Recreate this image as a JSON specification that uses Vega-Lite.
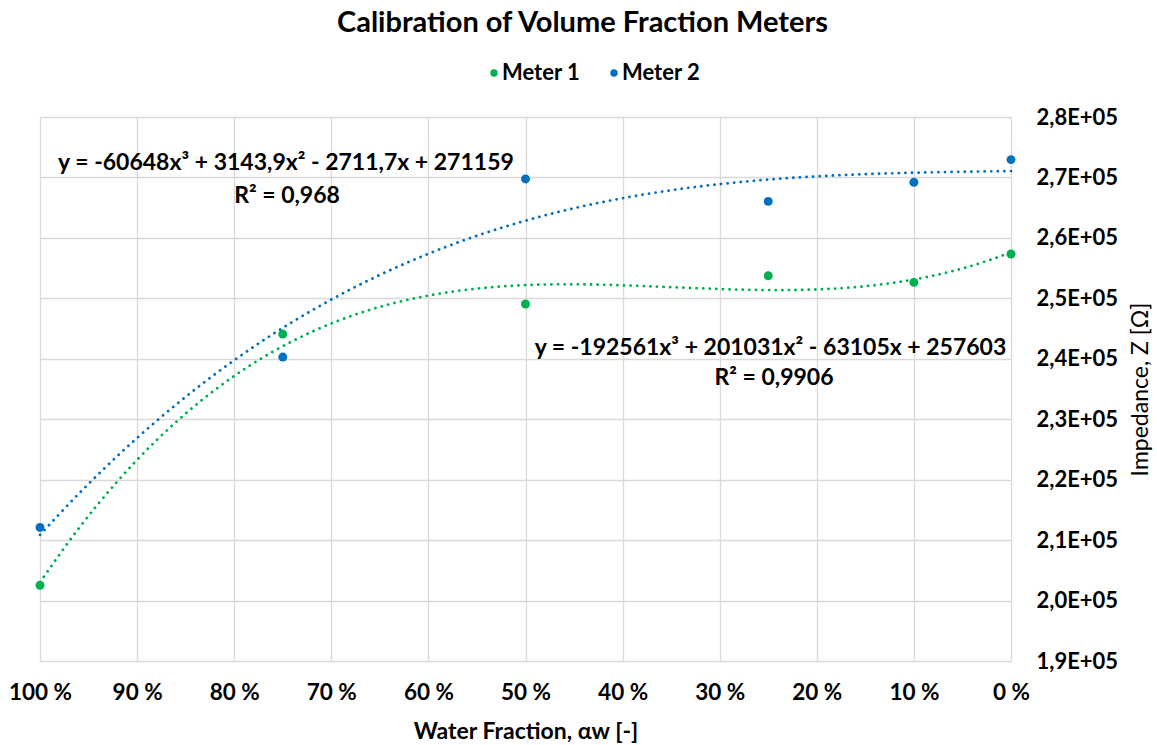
{
  "$schema": "https://vega.github.io/schema/vega-lite/v6.json",
  "width": 971,
  "height": 544,
  "autosize": {"type": "none"},
  "padding": {"left": 40, "top": 117, "right": 146, "bottom": 84},
  "background": "white",
  "title": {
    "text": "Calibration of Volume Fraction Meters",
    "font": "Lato",
    "fontSize": 29,
    "fontWeight": "bold",
    "color": "#000000",
    "anchor": "middle",
    "frame": "group",
    "dx": 57,
    "offset": 24
  },
  "datasets": {
    "points": [
      {"meter": "Meter 1", "water": 1.0, "z": 202530},
      {"meter": "Meter 1", "water": 0.75, "z": 244090},
      {"meter": "Meter 1", "water": 0.5, "z": 249060},
      {"meter": "Meter 1", "water": 0.25, "z": 253740},
      {"meter": "Meter 1", "water": 0.1, "z": 252640},
      {"meter": "Meter 1", "water": 0.0, "z": 257330},
      {"meter": "Meter 2", "water": 1.0, "z": 212100},
      {"meter": "Meter 2", "water": 0.75, "z": 240280},
      {"meter": "Meter 2", "water": 0.5, "z": 269750},
      {"meter": "Meter 2", "water": 0.25, "z": 266040},
      {"meter": "Meter 2", "water": 0.1, "z": 269190},
      {"meter": "Meter 2", "water": 0.0, "z": 272950}
    ],
    "labels": [
      {"text": "y = -60648x³ + 3143,9x² - 2711,7x + 271159", "water": 0.7467, "z": 272450},
      {"text": "R² = 0,968", "water": 0.7456, "z": 266990},
      {"text": "y = -192561x³ + 201031x² - 63105x + 257603", "water": 0.2477, "z": 241820},
      {"text": "R² = 0,9906", "water": 0.2441, "z": 236850}
    ]
  },
  "layer": [
    {
      "data": {"name": "points"},
      "mark": {"type": "circle", "size": 80, "opacity": 1},
      "encoding": {
        "x": {
          "field": "water",
          "type": "quantitative",
          "scale": {"domain": [0, 1], "reverse": true, "nice": false, "zero": false},
          "axis": {
            "values": [0, 0.1, 0.2, 0.3, 0.4, 0.5, 0.6, 0.7, 0.8, 0.9, 1],
            "labelExpr": "format(datum.value * 100, 'd') + ' %'",
            "title": "Water Fraction, αw [-]",
            "titleFont": "Lato",
            "titleFontSize": 23,
            "titleFontWeight": "bold",
            "titleColor": "#000000",
            "titlePadding": 17,
            "labelFont": "Lato",
            "labelFontSize": 22.5,
            "labelFontWeight": "bold",
            "labelColor": "#000000",
            "labelPadding": 20,
            "labelFlush": false,
            "labelOverlap": false,
            "ticks": false,
            "domain": false,
            "grid": true,
            "gridColor": "#d9d9d9",
            "gridWidth": 1.3
          }
        },
        "y": {
          "field": "z",
          "type": "quantitative",
          "scale": {"domain": [190000, 280000], "nice": false, "zero": false},
          "axis": {
            "orient": "right",
            "values": [190000, 200000, 210000, 220000, 230000, 240000, 250000, 260000, 270000, 280000],
            "labelExpr": "replace(format(datum.value / 100000, '.1f'), '.', ',') + 'E+05'",
            "title": "Impedance, Z [Ω]",
            "titleFont": "Lato",
            "titleFontSize": 23,
            "titleFontWeight": "normal",
            "titleColor": "#000000",
            "titleAngle": -90,
            "titlePadding": 35,
            "labelFont": "Lato",
            "labelFontSize": 22,
            "labelFontWeight": "bold",
            "labelColor": "#000000",
            "labelPadding": 25,
            "labelFlush": false,
            "labelOverlap": false,
            "ticks": false,
            "domain": false,
            "grid": true,
            "gridColor": "#d9d9d9",
            "gridWidth": 1.3
          }
        },
        "color": {
          "field": "meter",
          "type": "nominal",
          "scale": {"domain": ["Meter 1", "Meter 2"], "range": ["#00b050", "#0070c0"]},
          "legend": {
            "title": null,
            "orient": "none",
            "direction": "horizontal",
            "legendX": 443,
            "legendY": -55,
            "padding": 0,
            "symbolType": "circle",
            "symbolSize": 55,
            "symbolOpacity": 1,
            "labelFont": "Lato",
            "labelFontSize": 22,
            "labelFontWeight": "bold",
            "labelColor": "#000000",
            "columnPadding": 22,
            "labelOffset": -3,
            "encode": {
              "symbols": {
                "update": {
                  "fill": {"scale": "color", "field": "value"},
                  "stroke": {"value": "transparent"},
                  "strokeWidth": {"value": 0},
                  "opacity": {"value": 1}
                }
              }
            }
          }
        }
      }
    },
    {
      "data": {"name": "points"},
      "transform": [
        {"regression": "z", "on": "water", "groupby": ["meter"], "method": "poly", "order": 3}
      ],
      "mark": {"type": "line", "strokeWidth": 2.8, "strokeCap": "round", "strokeDash": [0.1, 6.5], "interpolate": "monotone"},
      "encoding": {
        "x": {"field": "water", "type": "quantitative"},
        "y": {"field": "z", "type": "quantitative"},
        "color": {"field": "meter", "type": "nominal"}
      }
    },
    {
      "data": {"name": "labels"},
      "mark": {"type": "text", "font": "Lato", "fontSize": 23, "fontWeight": "bold", "color": "#000000", "align": "center", "baseline": "middle"},
      "encoding": {
        "x": {"field": "water", "type": "quantitative"},
        "y": {"field": "z", "type": "quantitative"},
        "text": {"field": "text", "type": "nominal"}
      }
    }
  ],
  "config": {"view": {"stroke": null}}
}
